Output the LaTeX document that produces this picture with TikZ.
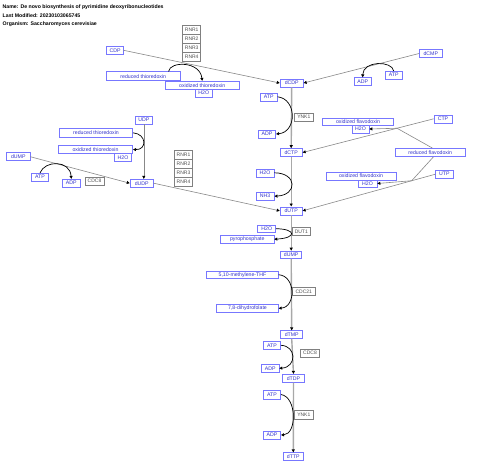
\documentclass[tikz,border=0pt]{standalone}
\usepackage{fontspec}
\setmainfont{Liberation Sans}
\usetikzlibrary{arrows.meta,calc}
\definecolor{metb}{HTML}{7777FF}
\definecolor{mett}{HTML}{3333CC}
\definecolor{enzb}{HTML}{808080}
\definecolor{enzt}{HTML}{505050}
\definecolor{stemc}{HTML}{A8A8A8}
\definecolor{sidec}{HTML}{888888}
\begin{document}
\begin{tikzpicture}[x=1pt,y=-1pt,
 met/.style={draw=metb,line width=0.6pt,fill=white,text=mett,font=\fontsize{5.2}{6}\selectfont,inner sep=0pt,minimum height=8pt},
 enz/.style={draw=enzb,line width=0.6pt,fill=white,text=enzt,font=\fontsize{5}{6}\selectfont,inner sep=0pt,minimum height=8pt,minimum width=18pt},
 tip/.style={-{Triangle[length=3pt,width=3pt,color=black]}},
 stemline/.style={draw=stemc,line width=1.4pt,tip},
 sideline/.style={draw=sidec,line width=0.6pt,tip},
 plainside/.style={draw=sidec,line width=0.6pt},
 curv/.style={draw=black,line width=0.7pt,tip},
 ttl/.style={anchor=west,font=\bfseries\fontsize{5.2}{6}\selectfont,inner sep=0pt}]
\useasboundingbox (0,0) rectangle (480,475);
% titles
\node[ttl] (t1) at (2.5,7.3) {Name: De novo biosynthesis of pyrimidine deoxyribonucleotides};
\node[ttl] (t2) at (2.5,16) {Last Modified: 20230103065745};
\node[ttl] (t3) at (2.5,24.3) {Organism: Saccharomyces cerevisiae};
% enzymes
\node[enz,minimum height=9pt] (rnr1a) at (191.7,29.5) {RNR1};
\node[enz,minimum height=9pt] (rnr2a) at (191.7,38.5) {RNR2};
\node[enz,minimum height=9pt] (rnr3a) at (191.7,47.5) {RNR3};
\node[enz,minimum height=9pt] (rnr4a) at (191.7,56.5) {RNR4};
\node[enz,minimum height=9pt] (rnr1b) at (183.5,154.5) {RNR1};
\node[enz,minimum height=9pt] (rnr2b) at (183.5,163.5) {RNR2};
\node[enz,minimum height=9pt] (rnr3b) at (183.5,172.5) {RNR3};
\node[enz,minimum height=9pt] (rnr4b) at (183.5,181.5) {RNR4};
\node[enz,minimum width=19pt] (ynk1a) at (303.8,117.2) {YNK1};
\node[enz,minimum width=19pt] (cdc8a) at (94.5,181.2) {CDC8};
\node[enz,minimum width=17.5pt] (dut1) at (301.3,231.3) {DUT1};
\node[enz,minimum width=22.3pt] (cdc21) at (303.8,291.7) {CDC21};
\node[enz,minimum width=18.6pt] (cdc8b) at (310,353) {CDC8};
\node[enz,minimum width=19pt,minimum height=9pt] (ynk1b) at (303.8,414.5) {YNK1};
% metabolites
\node[met,minimum width=16.7pt] (CDP) at (115,50.3) {CDP};
\node[met,minimum width=73.3pt,minimum height=9pt] (rthio1) at (143.3,76.2) {reduced thioredoxin};
\node[met,minimum width=74.3pt] (othio1) at (202.2,85.2) {oxidized thioredoxin};
\node[met,minimum width=17.3pt] (h2o1) at (203.7,93) {H2O};
\node[met,minimum width=23.3pt] (dCDP) at (291.7,83) {dCDP};
\node[met,minimum width=23pt] (dCMP) at (430.8,53.5) {dCMP};
\node[met,minimum width=17.3pt] (atp1) at (393.7,75.2) {ATP};
\node[met,minimum width=17.3pt] (adp1) at (362.7,81.7) {ADP};
\node[met,minimum width=17.3pt] (atp2) at (268.7,96.8) {ATP};
\node[met,minimum width=17.5pt] (adp2) at (267,134) {ADP};
\node[met,minimum width=22.3pt] (dCTP) at (291.2,152.5) {dCTP};
\node[met,minimum width=18pt] (CTP) at (443,118.8) {CTP};
\node[met,minimum width=70.6pt,minimum height=7.4pt] (oflavo1) at (358,122) {oxidized flavodoxin};
\node[met,minimum width=17pt,minimum height=7.6pt] (h2o2) at (360.5,129) {H2O};
\node[met,minimum width=69.3pt,minimum height=8.4pt] (rflavo) at (430.3,152.5) {reduced flavodoxin};
\node[met,minimum width=70pt] (oflavo2) at (361,175.8) {oxidized flavodoxin};
\node[met,minimum width=19pt,minimum height=7.4pt] (h2o3) at (367.5,183.5) {H2O};
\node[met,minimum width=17.3pt,minimum height=7.4pt] (UTP) at (444.3,174.2) {UTP};
\node[met,minimum width=18.3pt] (h2o4) at (265,172.8) {H2O};
\node[met,minimum width=18.3pt] (NH3) at (265,196.2) {NH3};
\node[met,minimum width=22.3pt] (dUTP) at (291.2,210.8) {dUTP};
\node[met,minimum width=17.7pt] (UDP) at (143.8,120) {UDP};
\node[met,minimum width=73.4pt,minimum height=9pt] (rthio2) at (96,132.8) {reduced thioredoxin};
\node[met,minimum width=74.4pt] (othio2) at (95.5,149.5) {oxidized thioredoxin};
\node[met,minimum width=17.4pt,minimum height=8.4pt] (h2o5) at (123,157.5) {H2O};
\node[met,minimum width=23.3pt] (dUMP1) at (18.3,156.7) {dUMP};
\node[met,minimum width=16.6pt] (atp3) at (40,177.2) {ATP};
\node[met,minimum width=17.3pt] (adp3) at (71.3,183.2) {ADP};
\node[met,minimum width=23.3pt] (dUDP) at (141.7,183.2) {dUDP};
\node[met,minimum width=18pt,minimum height=7.4pt] (h2o6) at (266.7,228.7) {H2O};
\node[met,minimum width=53.3pt] (ppi) at (247.3,239.2) {pyrophosphate};
\node[met,minimum width=21pt,minimum height=7.4pt] (dUMP2) at (291.2,254.7) {dUMP};
\node[met,minimum width=71.6pt,minimum height=7.4pt] (mthf) at (242.5,274.7) {5,10-methylene-THF};
\node[met,minimum width=61.6pt] (dhf) at (247.5,308.3) {7,8-dihydrofolate};
\node[met,minimum width=22pt,minimum height=7.6pt] (dTMP) at (291.7,334.5) {dTMP};
\node[met,minimum width=17.4pt,minimum height=7.4pt] (atp4) at (272,345.3) {ATP};
\node[met,minimum width=17.3pt] (adp4) at (270.3,368.3) {ADP};
\node[met,minimum width=21.6pt] (dTDP) at (293.5,378.2) {dTDP};
\node[met,minimum width=17.4pt,minimum height=8.6pt] (atp5) at (272,394.5) {ATP};
\node[met,minimum width=17.4pt] (adp5) at (272,435) {ADP};
\node[met,minimum width=20pt] (dTTP) at (293.3,456.7) {dTTP};
% main stem
\draw[stemline] (dCDP.south) -- (dCTP.north);
\draw[stemline] (dCTP.south) -- (dUTP.north);
\draw[stemline] (dUTP.south) -- (dUMP2.north);
\draw[stemline] (dUMP2.south) -- (dTMP.north);
\draw[stemline] (dTMP.south) -- (dTDP.north);
\draw[stemline] (dTDP.south) -- (dTTP.north);
% side reactions
\draw[sideline] (CDP.east) -- (dCDP.west);
\draw[sideline] (dCMP.west) -- (dCDP.east);
\draw[sideline] (CTP.west) -- (dCTP.east);
\draw[sideline] (UTP.west) -- (dUTP.east);
\draw[sideline] (dUMP1.east) -- (dUDP.west);
\draw[sideline] (UDP.south) -- (UDP.south |- dUDP.north);
\draw[sideline] (dUDP.east) -- (dUTP.west);
% flavodoxin
\coordinate (j1) at ($(CTP.west)!0.28!(dCTP.east)$);
\coordinate (j2) at ($(UTP.west)!0.178!(dUTP.east)$);
\draw[plainside] ($(rflavo.north)+(2,0)$) -- (j1);
\draw[sideline] (j1) -- (h2o2.east);
\draw[plainside] ($(rflavo.south)+(3,0)$) -- (j2);
\draw[sideline] (j2) -- (h2o3.east);
% curved co-substrate arrows
\coordinate (rt1s) at ($(rthio1.north east)+(-11.7,0)$);
\draw[curv] (rt1s) .. controls (170,61) and (200,61) .. (othio1.north);
\draw[curv] (atp1.north) .. controls (392,60.5) and (363,60.5) .. (adp1.north);
\draw[curv] (atp2.east) .. controls (297,99) and (297,132) .. (adp2.east);
\draw[curv] (h2o4.east) .. controls (297.5,173) and (297.5,195) .. (NH3.east);
\draw[curv] (rthio2.east) .. controls (147,134) and (147,150) .. (othio2.east);
\draw[curv] (atp3.north) .. controls (45,160) and (70,160) .. (adp3.north);
\draw[curv] (h2o6.east) .. controls (296.6,229) and (296.6,238) .. (ppi.east);
\draw[curv] (mthf.east) .. controls (296,276) and (296,307) .. (dhf.east);
\draw[curv] (atp4.east) .. controls (296.7,346) and (296.7,367) .. (adp4.east);
\draw[curv] (atp5.east) .. controls (297,397) and (297,434) .. (adp5.east);
\end{tikzpicture}
\end{document}
